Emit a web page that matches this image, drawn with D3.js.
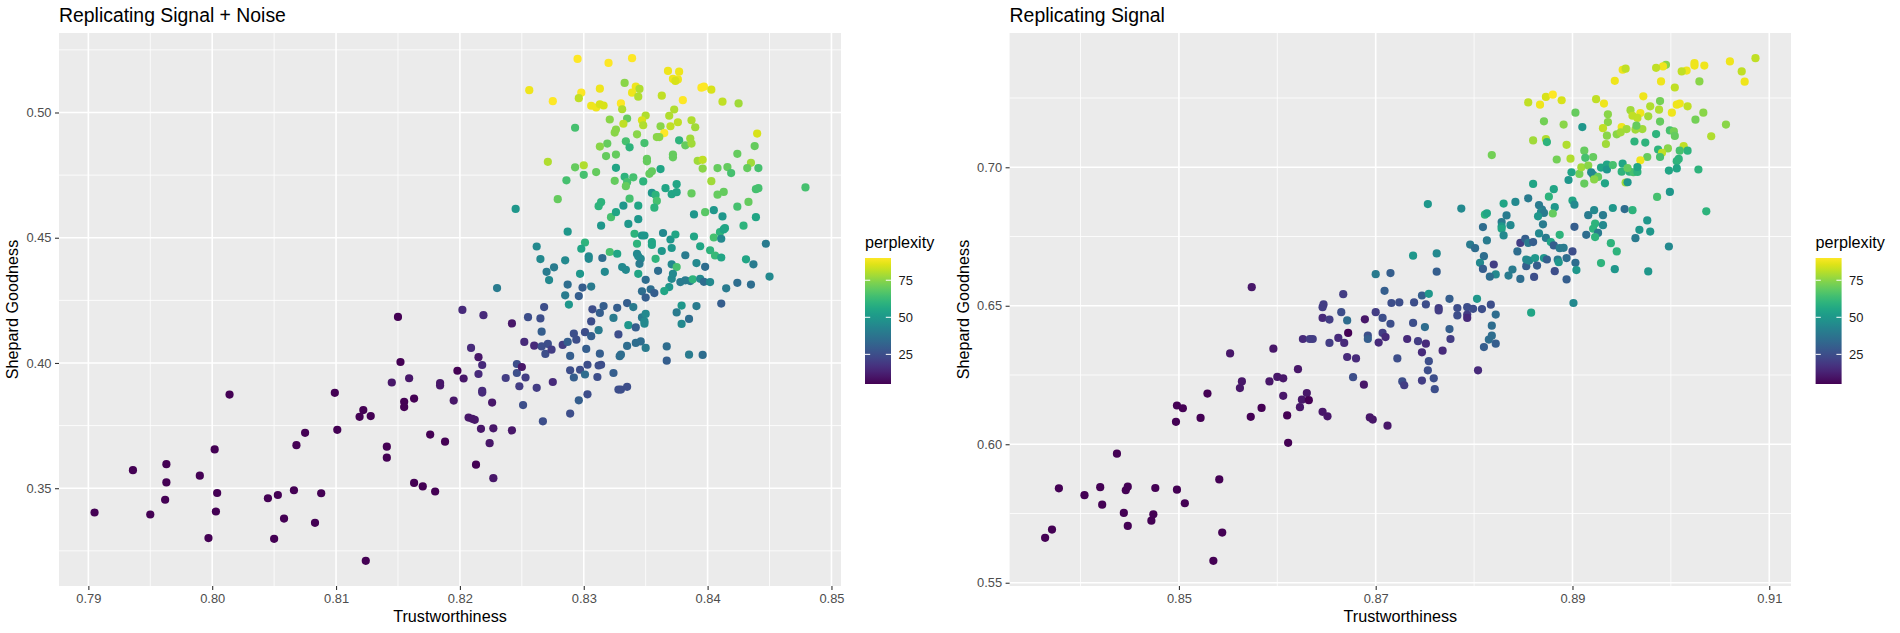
<!DOCTYPE html>
<html>
<head>
<meta charset="utf-8">
<script src="https://cdn.jsdelivr.net/npm/d3@7"></script>
<style>
  body { margin: 0; background: #fff; }
  svg { display: block; }
  text { font-family: "Liberation Sans", Arial, sans-serif; }
</style>
</head>
<body>
<svg id="chart" width="1900" height="633"></svg>
<script>
// ---- data: [trustworthiness, shepard goodness, perplexity]

const noiseData = [
  [0.7905,0.3403,5],[0.7936,0.3572,5],[0.7950,0.3395,5],[0.7963,0.3596,5],[0.7963,0.3523,5],[0.7962,0.3454,5],[0.7990,0.3550,5],[0.7997,0.3301,5],[0.8002,0.3655,5],[0.8004,0.3481,5],[0.8003,0.3407,5],[0.8014,0.3874,5],[0.8045,0.3460,5],[0.8053,0.3473,5],[0.8050,0.3298,5],[0.8058,0.3379,5],[0.8066,0.3492,5],[0.8068,0.3672,5],[0.8075,0.3721,5],[0.8083,0.3362,5],[0.8088,0.3480,5],[0.8099,0.3881,5],[0.8101,0.3733,5],[0.8119,0.3785,5],[0.8122,0.3812,5],[0.8128,0.3788,5],[0.8124,0.3210,5],[0.8141,0.3666,5],[0.8141,0.3622,5],[0.8145,0.3922,10],[0.8152,0.4004,5],[0.8150,0.4184,5],[0.8155,0.3845,5],[0.8155,0.3824,5],[0.8159,0.3939,10],[0.8163,0.3858,5],[0.8163,0.3521,5],[0.8170,0.3507,5],[0.8176,0.3714,5],[0.8180,0.3487,5],[0.8188,0.3686,5],[0.8184,0.3920,10],[0.8184,0.3910,10],[0.8195,0.3850,10],[0.8198,0.3969,5],[0.8203,0.3938,10],[0.8202,0.4212,15],[0.8209,0.4060,15],[0.8207,0.3782,10],[0.8210,0.3777,10],[0.8212,0.3773,10],[0.8213,0.3594,5],[0.8215,0.4023,10],[0.8215,0.3956,15],[0.8218,0.3992,15],[0.8218,0.3889,15],[0.8218,0.3882,15],[0.8219,0.4191,15],[0.8217,0.3737,10],[0.8226,0.3842,10],[0.8227,0.3739,10],[0.8224,0.3680,10],[0.8227,0.3540,10],[0.8237,0.3940,20],[0.8242,0.4158,10],[0.8242,0.3731,10],[0.8246,0.3996,25],[0.8246,0.3960,25],[0.8250,0.3984,10],[0.8248,0.3907,20],[0.8251,0.3832,25],[0.8253,0.3942,20],[0.8252,0.4084,15],[0.8255,0.4183,25],[0.8260,0.4069,15],[0.8262,0.3901,20],[0.8265,0.4178,25],[0.8266,0.4125,30],[0.8268,0.4223,25],[0.8267,0.3767,25],[0.8269,0.4036,25],[0.8271,0.4076,25],[0.8266,0.4066,25],[0.8274,0.4053,20],[0.8275,0.3924,15],[0.8283,0.4072,20],[0.8287,0.4084,30],[0.8288,0.4233,50],[0.8289,0.4028,30],[0.8289,0.3971,25],[0.8289,0.3798,25],[0.8292,0.3942,30],[0.8292,0.4117,25],[0.8294,0.4093,25],[0.8296,0.3851,30],[0.8297,0.3973,25],[0.8301,0.4123,25],[0.8302,0.4056,30],[0.8303,0.3993,25],[0.8301,0.3954,35],[0.8303,0.3875,25],[0.8306,0.4166,25],[0.8307,0.4214,25],[0.8306,0.4107,30],[0.8311,0.3944,25],[0.8312,0.4131,40],[0.8313,0.4037,30],[0.8314,0.3993,25],[0.8312,0.3990,25],[0.8313,0.4200,30],[0.8316,0.4227,30],[0.8324,0.4180,40],[0.8324,0.3960,30],[0.8327,0.4220,30],[0.8328,0.4114,25],[0.8329,0.4027,35],[0.8330,0.4033,35],[0.8328,0.3894,25],[0.8330,0.3894,25],[0.8335,0.3905,25],[0.8335,0.4239,30],[0.8336,0.4151,50],[0.8335,0.4068,35],[0.8340,0.4223,40],[0.8342,0.4142,30],[0.8342,0.4080,35],[0.8346,0.4086,35],[0.8347,0.4182,40],[0.8349,0.4157,45],[0.8350,0.4196,45],[0.8349,0.4166,45],[0.8350,0.4060,40],[0.8367,0.4066,35],[0.8367,0.4009,30],[0.8375,0.4202,40],[0.8379,0.4229,50],[0.8379,0.4156,45],[0.8385,0.4033,40],[0.8385,0.4176,35],[0.8391,0.4227,40],[0.8396,0.4032,35],
  [0.8245,0.4615,50],[0.8287,0.4524,50],[0.8262,0.4465,45],[0.8265,0.4415,45],[0.8270,0.4364,40],[0.8276,0.4382,40],[0.8272,0.4331,45],[0.8285,0.4410,45],[0.8297,0.4356,50],[0.8230,0.4299,40],[0.8287,0.4313,35],[0.8299,0.4301,30],[0.8306,0.4305,40],[0.8285,0.4270,40],[0.8296,0.4267,30],[0.8301,0.4481,60],[0.8298,0.4456,55],[0.8304,0.4426,45],[0.8304,0.4416,45],[0.8315,0.4419,35],[0.8317,0.4364,45],[0.8314,0.4548,50],[0.8322,0.4582,65],[0.8326,0.4602,55],[0.8336,0.4555,50],[0.8344,0.4574,50],[0.8341,0.4516,60],[0.8347,0.4509,50],[0.8349,0.4509,50],[0.8343,0.4476,60],[0.8355,0.4483,55],[0.8355,0.4471,55],[0.8321,0.4443,65],[0.8327,0.4436,55],[0.8331,0.4383,45],[0.8334,0.4372,45],[0.8343,0.4436,45],[0.8346,0.4416,45],[0.8344,0.4426,45],[0.8345,0.4396,40],[0.8344,0.4356,55],[0.8350,0.4332,35],[0.8358,0.4416,60],[0.8363,0.4447,50],[0.8364,0.4519,45],[0.8370,0.4493,50],[0.8371,0.4459,50],[0.8374,0.4513,55],[0.8360,0.4368,35],[0.8371,0.4394,45],[0.8375,0.4383,65],[0.8371,0.4336,45],[0.8372,0.4356,45],[0.8369,0.4303,50],[0.8365,0.4287,55],[0.8347,0.4286,35],[0.8350,0.4261,30],[0.8354,0.4294,35],[0.8357,0.4279,30],[0.8378,0.4323,40],[0.8382,0.4330,40],[0.8386,0.4327,40],[0.8388,0.4334,60],[0.8382,0.4430,40],[0.8389,0.4505,55],[0.8389,0.4593,50],[0.8391,0.4399,45],[0.8394,0.4336,45],
  [0.8256,0.5089,88],[0.8271,0.4803,80],[0.8275,0.5045,90],[0.8279,0.4654,70],
  [0.8295,0.5214,90],[0.8320,0.5198,90],[0.8339,0.5217,90],[0.8333,0.5118,75],[0.8342,0.5103,88],[0.8345,0.5094,80],[0.8339,0.5079,88],[0.8344,0.5063,80],[0.8368,0.5166,88],[0.8377,0.5163,88],[0.8372,0.5134,88],[0.8376,0.5132,88],[0.8374,0.5126,85],[0.8298,0.5079,90],[0.8296,0.5057,82],[0.8313,0.5095,88],[0.8306,0.5027,88],[0.8310,0.5020,88],[0.8313,0.5033,85],[0.8316,0.5028,85],[0.8330,0.5036,90],[0.8331,0.5013,80],[0.8363,0.5067,82],[0.8380,0.5049,90],[0.8373,0.5012,80],[0.8293,0.4939,65],[0.8321,0.4972,75],[0.8335,0.4976,70],[0.8332,0.4955,82],[0.8326,0.4932,75],[0.8325,0.4920,75],[0.8350,0.4988,80],[0.8347,0.4969,85],[0.8348,0.4949,80],[0.8369,0.4987,80],[0.8362,0.4945,75],[0.8370,0.4945,82],[0.8376,0.4961,82],[0.8365,0.4918,90],[0.8343,0.4913,75],[0.8359,0.4902,75],[0.8361,0.4902,75],[0.8349,0.4878,65],[0.8334,0.4885,65],[0.8319,0.4876,70],[0.8313,0.4864,75],[0.8337,0.4861,60],[0.8377,0.4889,60],[0.8382,0.4869,70],[0.8326,0.4832,70],[0.8318,0.4826,70],[0.8351,0.4815,70],[0.8351,0.4805,70],[0.8372,0.4832,70],[0.8372,0.4821,70],[0.8293,0.4781,70],[0.8300,0.4789,80],[0.8300,0.4751,65],[0.8310,0.4762,70],[0.8326,0.4779,55],[0.8355,0.4765,70],[0.8353,0.4755,70],[0.8362,0.4774,55],[0.8333,0.4743,60],[0.8335,0.4722,65],[0.8334,0.4706,70],[0.8340,0.4741,65],[0.8325,0.4727,70],[0.8348,0.4725,60],[0.8286,0.4729,65],[0.8355,0.4679,50],[0.8358,0.4671,60],[0.8366,0.4698,55],[0.8371,0.4674,55],[0.8375,0.4714,55],[0.8375,0.4682,55],[0.8337,0.4656,65],[0.8314,0.4642,60],[0.8312,0.4626,60],[0.8359,0.4647,65],[0.8332,0.4628,50],[0.8344,0.4628,55],[0.8357,0.4620,60],
  [0.8395,0.5099,90],[0.8397,0.5103,90],[0.8403,0.5091,85],[0.8412,0.5043,82],[0.8425,0.5036,78],[0.8387,0.4969,80],[0.8390,0.4941,78],[0.8440,0.4916,85],[0.8386,0.4896,78],[0.8387,0.4876,78],[0.8438,0.4866,70],[0.8479,0.4701,65],
  [0.8392,0.4807,78],[0.8396,0.4811,82],[0.8396,0.4776,75],[0.8424,0.4835,70],[0.8435,0.4799,78],[0.8408,0.4778,70],[0.8416,0.4782,70],[0.8419,0.4758,65],[0.8432,0.4778,70],[0.8441,0.4778,65],[0.8403,0.4726,78],[0.8387,0.4677,70],[0.8408,0.4672,70],[0.8413,0.4683,70],[0.8439,0.4694,65],[0.8441,0.4698,65],[0.8433,0.4643,70],[0.8424,0.4624,65],[0.8398,0.4602,68],[0.8405,0.4610,50],[0.8412,0.4585,50],[0.8439,0.4582,55],[0.8429,0.4548,60],[0.8410,0.4522,60],[0.8413,0.4533,55],[0.8414,0.4538,55],[0.8405,0.4501,65],[0.8411,0.4496,45],[0.8394,0.4466,55],[0.8402,0.4450,60],[0.8406,0.4429,62],[0.8411,0.4421,55],[0.8431,0.4414,55],[0.8437,0.4394,40],[0.8447,0.4476,40],[0.8398,0.4384,35],[0.8397,0.4324,35],[0.8402,0.4323,45],[0.8415,0.4298,40],[0.8424,0.4320,35],[0.8435,0.4313,35],[0.8450,0.4345,45],[0.8411,0.4237,30]
];

const signalData = [
  [0.8364,0.5662,5],[0.8371,0.5692,5],[0.8378,0.5841,5],[0.8404,0.5816,5],[0.8420,0.5845,5],[0.8422,0.5782,5],[0.8437,0.5966,5],[0.8444,0.5752,5],[0.8446,0.5834,5],[0.8448,0.5847,5],[0.8448,0.5705,5],[0.8472,0.5724,5],[0.8474,0.5747,5],[0.8476,0.5842,5],[0.8498,0.5836,5],[0.8506,0.5787,5],[0.8498,0.6140,5],[0.8504,0.6130,5],[0.8497,0.6081,5],[0.8522,0.6095,5],[0.8529,0.6183,5],[0.8535,0.5579,5],[0.8541,0.5873,5],[0.8544,0.5681,5],[0.8552,0.6328,10],[0.8562,0.6203,10],[0.8564,0.6227,10],[0.8573,0.6099,5],[0.8584,0.6131,5],[0.8592,0.6227,10],[0.8596,0.6345,10],[0.8600,0.6243,10],[0.8606,0.6238,10],[0.8606,0.6175,10],[0.8610,0.6104,5],[0.8611,0.6005,5],[0.8621,0.6271,10],[0.8623,0.6134,10],[0.8625,0.6161,10],[0.8630,0.6185,10],[0.8632,0.6159,5],[0.8626,0.6380,15],[0.8633,0.6380,20],[0.8636,0.6380,20],[0.8646,0.6117,10],[0.8651,0.6101,10],[0.8646,0.6456,15],[0.8647,0.6505,20],[0.8646,0.6495,20],[0.8653,0.6450,20],[0.8653,0.6366,20],[0.8662,0.6384,15],[0.8665,0.6477,25],[0.8668,0.6366,15],[0.8671,0.6447,35],[0.8671,0.6315,15],[0.8672,0.6402,5],[0.8677,0.6242,25],[0.8680,0.6310,15],[0.8688,0.6215,10],[0.8689,0.6451,10],[0.8692,0.6392,25],[0.8692,0.6380,30],[0.8694,0.6097,10],[0.8697,0.6089,10],[0.8700,0.6477,20],[0.8703,0.6367,15],[0.8707,0.6456,25],[0.8707,0.6402,20],[0.8710,0.6387,15],[0.8712,0.6067,10],[0.8715,0.6435,25],[0.8716,0.6510,25],[0.8722,0.6310,25],[0.8724,0.6512,25],[0.8727,0.6227,25],[0.8729,0.6213,20],[0.8732,0.6380,15],[0.8738,0.6438,25],[0.8739,0.6512,25],[0.8743,0.6372,20],[0.8747,0.6332,15],[0.8747,0.6230,20],[0.8750,0.6423,35],[0.8751,0.6505,25],[0.8751,0.6363,15],[0.8753,0.6267,25],[0.8754,0.6300,25],[0.8759,0.6238,25],[0.8760,0.6199,25],[0.8764,0.6492,20],[0.8764,0.6483,20],[0.8768,0.6338,15],[0.8775,0.6416,30],[0.8776,0.6380,20],[0.8783,0.6492,25],[0.8783,0.6465,25],[0.8793,0.6495,25],[0.8793,0.6468,20],[0.8793,0.6456,15],[0.8799,0.6489,25],[0.8804,0.6267,15],[0.8808,0.6488,25],[0.8817,0.6504,25],[0.8818,0.6428,35],[0.8822,0.6468,35],[0.8815,0.6378,35],[0.8810,0.6351,30],[0.8818,0.6392,35],[0.8822,0.6363,30],[0.8775,0.6525,30],[0.8803,0.6525,50],
  [0.8574,0.6567,10],[0.8753,0.6867,50],[0.8738,0.6681,50],[0.8700,0.6614,40],[0.8715,0.6618,30],[0.8667,0.6542,20],[0.8709,0.6554,30],[0.8747,0.6537,30],[0.8754,0.6543,50],
  [0.8855,0.7234,82],[0.8867,0.7226,88],[0.8873,0.7254,85],[0.8880,0.7262,90],[0.8889,0.7242,85],[0.8903,0.7197,70],[0.8871,0.7166,72],[0.8891,0.7154,75],[0.8860,0.7097,78],[0.8873,0.7102,80],[0.8874,0.7091,60],[0.8894,0.7081,80],[0.8818,0.7044,72],[0.8884,0.7028,72],[0.8898,0.7031,80],[0.8907,0.6976,72],[0.8899,0.6982,55],[0.8896,0.6954,50],[0.8860,0.6940,55],[0.8881,0.6921,55],[0.8876,0.6894,60],[0.8842,0.6875,45],[0.8855,0.6888,40],[0.8830,0.6869,55],[0.8866,0.6863,40],[0.8869,0.6847,40],[0.8868,0.6838,45],[0.8871,0.6835,40],[0.8865,0.6823,50],[0.8882,0.6856,50],[0.8900,0.6880,55],[0.8902,0.6865,45],[0.8880,0.6833,70],[0.8787,0.6851,45],[0.8811,0.6829,60],[0.8813,0.6834,55],[0.8833,0.6826,40],[0.8828,0.6802,40],[0.8828,0.6787,50],[0.8828,0.6778,55],[0.8837,0.6791,45],[0.8809,0.6784,35],[0.8830,0.6754,45],[0.8813,0.6736,40],[0.8870,0.6794,40],[0.8866,0.6761,45],[0.8887,0.6756,60],[0.8873,0.6745,40],[0.8878,0.6730,55],[0.8881,0.6718,30],[0.8902,0.6785,30],[0.8847,0.6727,20],[0.8852,0.6742,30],[0.8855,0.6727,40],[0.8860,0.6730,30],[0.8796,0.6721,40],[0.8801,0.6708,35],[0.8810,0.6679,35],[0.8806,0.6655,45],[0.8809,0.6633,30],[0.8820,0.6649,20],[0.8822,0.6613,45],[0.8816,0.6605,35],[0.8844,0.6696,35],[0.8839,0.6631,40],[0.8853,0.6643,30],[0.8853,0.6667,45],[0.8856,0.6663,45],[0.8862,0.6672,50],[0.8864,0.6645,30],[0.8871,0.6672,50],[0.8874,0.6667,30],[0.8887,0.6708,40],[0.8891,0.6709,40],[0.8900,0.6696,25],[0.8894,0.6672,35],[0.8885,0.6667,40],[0.8886,0.6657,50],[0.8903,0.6655,35],[0.8904,0.6629,50],[0.8882,0.6625,25],[0.8835,0.6609,40],[0.8847,0.6597,35],[0.8861,0.6604,25],[0.8894,0.6595,30],[0.8762,0.6689,45],[0.8762,0.6623,30],
  [0.9086,0.7394,82],[0.9060,0.7382,88],[0.9072,0.7346,82],[0.9075,0.7309,88],[0.9056,0.7154,75],[0.9041,0.7112,80],[0.9024,0.7376,88],[0.9024,0.7367,88],[0.9034,0.7367,88],[0.9016,0.7349,88],[0.9011,0.7346,82],[0.9029,0.7310,75],[0.9004,0.7288,82],[0.8995,0.7370,75],[0.8992,0.7364,88],[0.8985,0.7359,82],[0.8990,0.7310,88],[0.8951,0.7352,88],[0.8954,0.7356,82],[0.8943,0.7312,88],[0.8972,0.7256,88],[0.8989,0.7239,72],[0.8924,0.7246,82],[0.8932,0.7230,88],[0.8979,0.7220,80],[0.8988,0.7208,80],[0.9006,0.7226,88],[0.9009,0.7230,88],[0.9017,0.7220,82],[0.9001,0.7197,88],[0.9033,0.7197,75],[0.9025,0.7172,72],[0.8959,0.7206,78],[0.8969,0.7196,88],[0.8961,0.7186,82],[0.8966,0.7178,82],[0.8977,0.7184,78],[0.8989,0.7165,70],[0.8936,0.7191,75],[0.8936,0.7163,75],[0.8931,0.7141,82],[0.8950,0.7145,88],[0.8945,0.7119,75],[0.8949,0.7126,78],[0.8955,0.7138,78],[0.8964,0.7136,78],[0.8971,0.7138,78],[0.8965,0.7150,70],[0.8935,0.7114,75],[0.8934,0.7084,78],[0.8985,0.7120,60],[0.8999,0.7133,65],[0.9003,0.7130,72],[0.9004,0.7113,70],[0.8963,0.7093,60],[0.8974,0.7089,60],[0.8987,0.7064,60],[0.8997,0.7068,75],[0.9013,0.7076,82],[0.9009,0.7060,65],[0.9017,0.7060,60],[0.8991,0.7052,82],[0.8989,0.7037,65],[0.8976,0.7037,70],[0.9008,0.7030,60],[0.9006,0.7022,60],[0.8969,0.7025,88],[0.8912,0.7060,70],[0.8913,0.7034,65],[0.8921,0.7037,70],[0.8910,0.7145,50],[0.8909,0.7000,78],[0.8916,0.7006,75],[0.8919,0.6982,45],[0.8921,0.6973,45],[0.8926,0.6965,70],[0.8912,0.6941,70],[0.8922,0.6956,75],[0.8929,0.6999,55],[0.8935,0.7010,55],[0.8935,0.6992,50],[0.8941,0.7008,65],[0.8933,0.6942,55],[0.8951,0.7013,55],[0.8950,0.6984,60],[0.8958,0.6984,60],[0.8962,0.6982,65],[0.8966,0.6983,60],[0.8956,0.6997,70],[0.8966,0.7001,55],[0.8954,0.6945,78],[0.8956,0.6946,50],[0.8998,0.6988,55],[0.9006,0.6996,55],[0.9028,0.6992,60],[0.8986,0.6893,65],[0.8999,0.6911,50],[0.9036,0.6841,60],[0.8916,0.6827,40],[0.8922,0.6845,45],[0.8931,0.6827,40],[0.8941,0.6853,50],[0.8953,0.6849,35],[0.8961,0.6845,60],[0.8923,0.6797,60],[0.8921,0.6778,60],[0.8931,0.6791,45],[0.8926,0.6763,40],[0.8914,0.6756,35],[0.8923,0.6748,60],[0.8976,0.6808,50],[0.8968,0.6774,50],[0.8979,0.6768,50],[0.8964,0.6744,40],[0.8939,0.6726,60],[0.8945,0.6696,60],[0.8998,0.6714,45],[0.8929,0.6654,60],[0.8943,0.6632,50],[0.8977,0.6624,50],
  [0.8858,0.6475,55],[0.8901,0.6510,45]
];

const noiseXTicks = [0.79, 0.80, 0.81, 0.82, 0.83, 0.84, 0.85];
const noiseYTicks = [0.35, 0.40, 0.45, 0.50];
const signalXTicks = [0.85, 0.87, 0.89, 0.91];
const signalYTicks = [0.55, 0.60, 0.65, 0.70];
const legendTicks = [25, 50, 75];
const perplexityRange = [5, 90];

const svg = d3.select('#chart');
const colour = d3.scaleSequential(d3.interpolateViridis).domain(perplexityRange);

// ggplot style: 5% expansion of the data range
function expanded(vals) {
  const [lo, hi] = d3.extent(vals);
  const pad = (hi - lo) * 0.05;
  return [lo - pad, hi + pad];
}

// minor breaks halfway between majors, also beyond the ends if inside the domain
function minorBreaks(ticks, domain) {
  const step = ticks[1] - ticks[0];
  const out = [];
  for (let i = -1; i < ticks.length; i++) {
    const v = ticks[0] + step * (i + 0.5);
    if (v > domain[0] && v < domain[1]) out.push(v);
  }
  return out;
}

function drawPanel(spec) {
  const g = svg.append('g');
  const x = d3.scaleLinear().domain(expanded(spec.data.map(d => d[0]))).range([spec.left, spec.right]);
  const y = d3.scaleLinear().domain(expanded(spec.data.map(d => d[1]))).range([spec.bottom, spec.top]);

  g.append('rect')
    .attr('x', spec.left).attr('y', spec.top)
    .attr('width', spec.right - spec.left).attr('height', spec.bottom - spec.top)
    .attr('fill', '#EBEBEB');

  // grid
  g.selectAll('.minx').data(minorBreaks(spec.xTicks, x.domain())).join('line')
    .attr('x1', d => x(d)).attr('x2', d => x(d)).attr('y1', spec.top).attr('y2', spec.bottom)
    .attr('stroke', '#fff').attr('stroke-width', 0.8);
  g.selectAll('.miny').data(minorBreaks(spec.yTicks, y.domain())).join('line')
    .attr('y1', d => y(d)).attr('y2', d => y(d)).attr('x1', spec.left).attr('x2', spec.right)
    .attr('stroke', '#fff').attr('stroke-width', 0.8);
  g.selectAll('.majx').data(spec.xTicks).join('line')
    .attr('x1', d => x(d)).attr('x2', d => x(d)).attr('y1', spec.top).attr('y2', spec.bottom)
    .attr('stroke', '#fff').attr('stroke-width', 1.6);
  g.selectAll('.majy').data(spec.yTicks).join('line')
    .attr('y1', d => y(d)).attr('y2', d => y(d)).attr('x1', spec.left).attr('x2', spec.right)
    .attr('stroke', '#fff').attr('stroke-width', 1.6);

  // points
  g.append('g').selectAll('circle').data(spec.data).join('circle')
    .attr('cx', d => x(d[0])).attr('cy', d => y(d[1])).attr('r', 4.1)
    .attr('fill', d => colour(d[2]));

  // axes
  const fmt = d3.format('.2f');
  const xAxis = g.append('g').attr('transform', `translate(0,${spec.bottom})`)
    .call(d3.axisBottom(x).tickValues(spec.xTicks).tickFormat(fmt).tickSize(4).tickPadding(4));
  const yAxis = g.append('g').attr('transform', `translate(${spec.left},0)`)
    .call(d3.axisLeft(y).tickValues(spec.yTicks).tickFormat(fmt).tickSize(4).tickPadding(3.5));
  [xAxis, yAxis].forEach(a => {
    a.select('.domain').remove();
    a.selectAll('line').attr('stroke', '#333333').attr('stroke-width', 1.1);
    a.selectAll('text').attr('fill', '#4D4D4D').style('font-size', '12.9px')
      .style('font-family', '"Liberation Sans", Arial, sans-serif');
  });

  // titles
  g.append('text').attr('x', spec.left).attr('y', 22)
    .style('font-size', '19.4px').attr('fill', '#000').text(spec.title);
  g.append('text').attr('x', (spec.left + spec.right) / 2).attr('y', 622)
    .attr('text-anchor', 'middle').style('font-size', '16.2px').text('Trustworthiness');
  g.append('text')
    .attr('transform', `translate(${spec.left - 40.7},${(spec.top + spec.bottom) / 2}) rotate(-90)`)
    .attr('text-anchor', 'middle').style('font-size', '16.2px').text('Shepard Goodness');

  // colour bar legend
  const lg = g.append('g').attr('transform', `translate(${spec.legendX},0)`);
  lg.append('text').attr('x', 0).attr('y', 248).style('font-size', '16.2px').text('perplexity');
  const barTop = 258, barBottom = 384, barW = 26;
  const gradId = 'grad' + spec.id;
  const grad = svg.append('defs').append('linearGradient').attr('id', gradId)
    .attr('x1', 0).attr('y1', 1).attr('x2', 0).attr('y2', 0);
  d3.range(0, 1.0001, 0.05).forEach(t => {
    grad.append('stop').attr('offset', t)
      .attr('stop-color', colour(perplexityRange[0] + t * (perplexityRange[1] - perplexityRange[0])));
  });
  lg.append('rect').attr('x', 0).attr('y', barTop).attr('width', barW).attr('height', barBottom - barTop)
    .attr('fill', `url(#${gradId})`);
  const ly = d3.scaleLinear().domain(perplexityRange).range([barBottom, barTop]);
  lg.selectAll('.tl').data(legendTicks).join('line')
    .attr('x1', 0).attr('x2', barW / 5).attr('y1', d => ly(d)).attr('y2', d => ly(d))
    .attr('stroke', '#fff').attr('stroke-width', 1);
  lg.selectAll('.tr').data(legendTicks).join('line')
    .attr('x1', barW - barW / 5).attr('x2', barW).attr('y1', d => ly(d)).attr('y2', d => ly(d))
    .attr('stroke', '#fff').attr('stroke-width', 1);
  lg.selectAll('.lab').data(legendTicks).join('text')
    .attr('x', barW + 7.5).attr('y', d => ly(d)).attr('dy', '0.35em')
    .style('font-size', '12.9px').attr('fill', '#1A1A1A').text(d => d);
}

drawPanel({ id: 'noise', data: noiseData, title: 'Replicating Signal + Noise',
  left: 59, right: 841, top: 33, bottom: 586,
  xTicks: noiseXTicks, yTicks: noiseYTicks, legendX: 865 });

drawPanel({ id: 'signal', data: signalData, title: 'Replicating Signal',
  left: 1009.6, right: 1791, top: 33, bottom: 586,
  xTicks: signalXTicks, yTicks: signalYTicks, legendX: 1815.6 });
</script>
</body>
</html>
